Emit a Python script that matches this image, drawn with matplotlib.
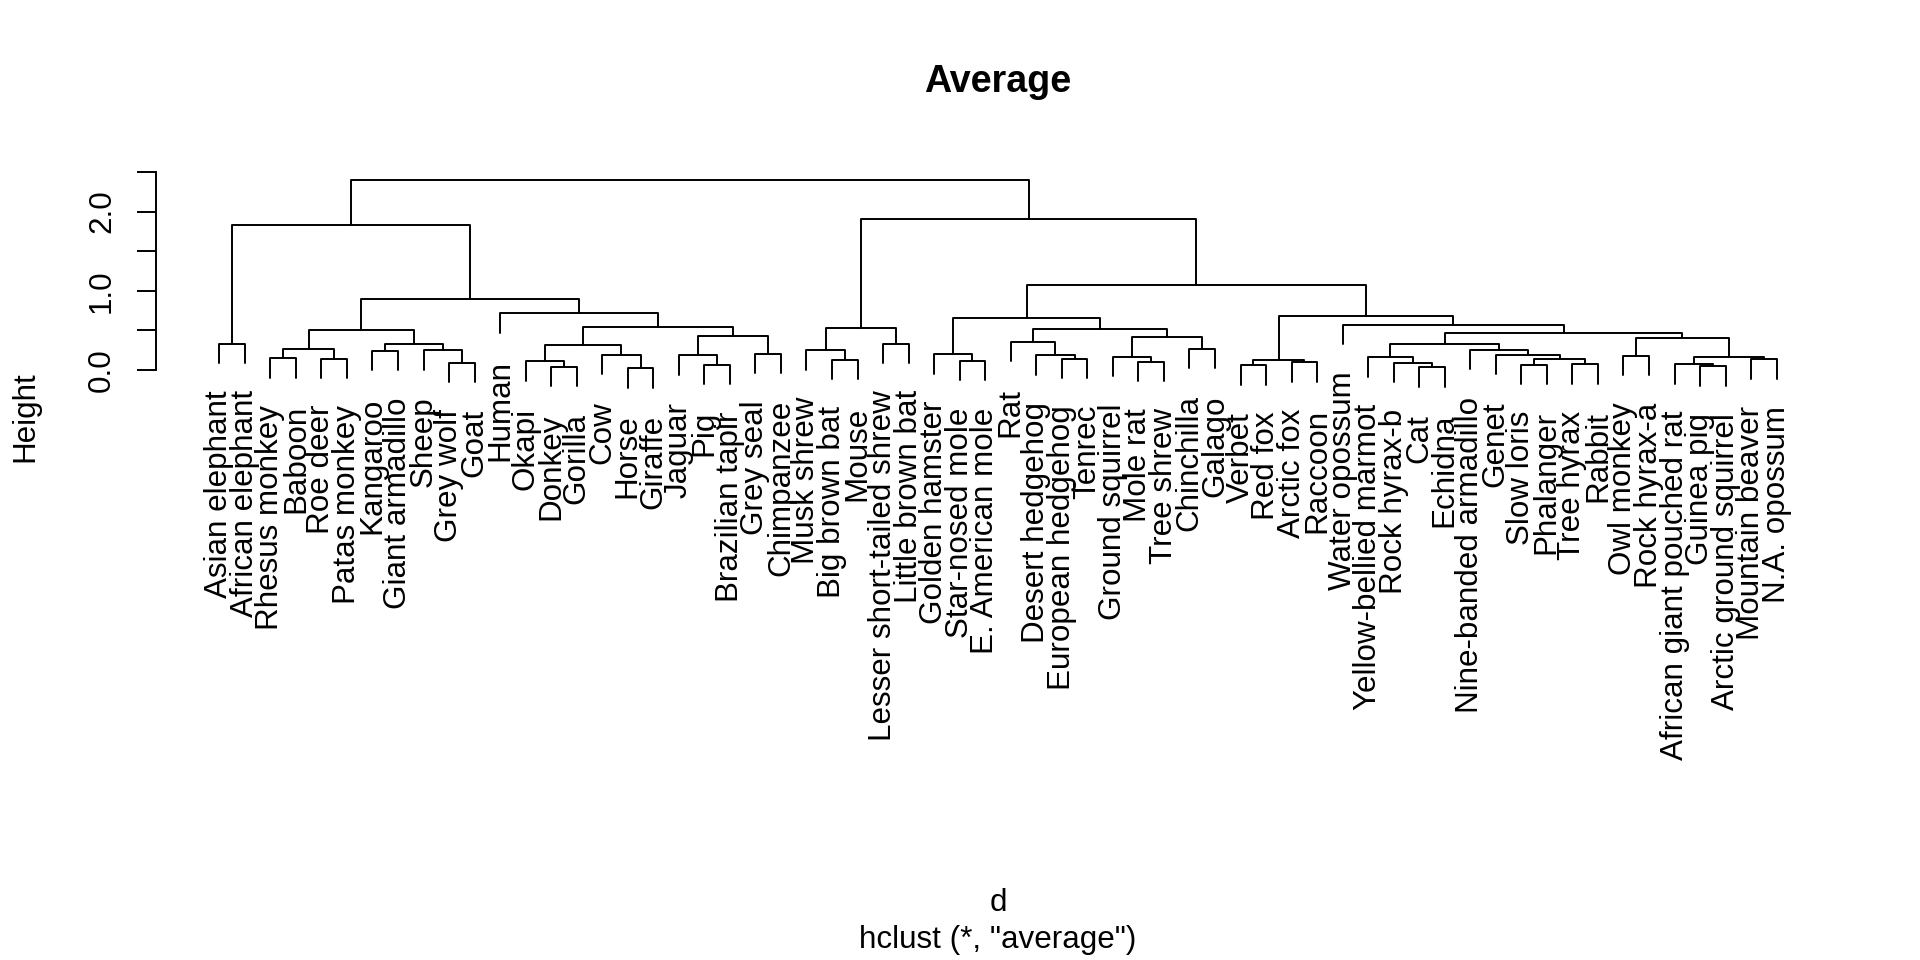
import numpy as np
import matplotlib
matplotlib.use("Agg")
import matplotlib.pyplot as plt
from matplotlib import transforms

plt.rcParams['font.family'] = ['Liberation Sans', 'DejaVu Sans']

# leaves in the order they are drawn
labels = [
    "Asian elephant", "African elephant", "Rhesus monkey", "Baboon", "Roe deer",
    "Patas monkey", "Kangaroo", "Giant armadillo", "Sheep", "Grey wolf", "Goat",
    "Human", "Okapi", "Donkey", "Gorilla", "Cow", "Horse", "Giraffe", "Jaguar",
    "Pig", "Brazilian tapir", "Grey seal", "Chimpanzee", "Musk shrew",
    "Big brown bat", "Mouse", "Lesser short-tailed shrew", "Little brown bat",
    "Golden hamster", "Star-nosed mole", "E. American mole", "Rat",
    "Desert hedgehog", "European hedgehog", "Tenrec", "Ground squirrel",
    "Mole rat", "Tree shrew", "Chinchilla", "Galago", "Verbet", "Red fox",
    "Arctic fox", "Raccoon", "Water opossum", "Yellow-bellied marmot",
    "Rock hyrax-b", "Cat", "Echidna", "Nine-banded armadillo", "Genet",
    "Slow loris", "Phalanger", "Tree hyrax", "Rabbit", "Owl monkey",
    "Rock hyrax-a", "African giant pouched rat", "Guinea pig",
    "Arctic ground squirrel", "Mountain beaver", "N.A. opossum",
]

# merge table like R's hclust: negative = leaf (1-based), positive = earlier merge row
merge_a = [-17, -48, -14, -59, -41, -20, -52, -54, -58, -10,
           -47, -43, -37, -13, -30, -25, 5, 7, -61, -34,
           -3, -5, -46, -36, 9, -56, -19, -33, -16, -51,
           -29, -22, -7, -9, -24, -50, 21, -39, 14, 33,
           -1, -27, 23, -32, 26, 24, 27, 43, 37, 44,
           35, 39, -45, 31, 17, -12, 54, 49, 41, 51,
           59]
merge_b = [-18, -49, -15, -60, -42, -21, -53, -55, 4, -11,
           2, -44, -38, 3, -31, -26, 12, 8, -62, -35,
           -4, -6, 11, 13, 19, -57, 6, 20, 1, 18,
           15, -23, -8, 10, 16, 30, 22, -40, 29, 34,
           -2, -28, 36, 28, 25, 38, 32, 45, 40, 46,
           42, 47, 48, 50, 53, 52, 55, 56, 58, 57,
           60]
heights = [0.019, 0.032, 0.039, 0.044, 0.057, 0.064, 0.064, 0.070, 0.070, 0.090,
           0.090, 0.095, 0.099, 0.107, 0.111, 0.124, 0.124, 0.133, 0.133, 0.140,
           0.146, 0.142, 0.158, 0.166, 0.166, 0.174, 0.183, 0.183, 0.187, 0.187,
           0.196, 0.204, 0.238, 0.247, 0.247, 0.250, 0.259, 0.263, 0.310, 0.325,
           0.330, 0.330, 0.326, 0.355, 0.398, 0.411, 0.427, 0.469, 0.503, 0.512,
           0.525, 0.537, 0.566, 0.655, 0.680, 0.714, 1.076, 0.899, 1.827, 1.903,
           2.400]

hang = 0.245
lw = 1.4

fig = plt.figure(figsize=(19.2, 9.6), dpi=100)
ax = fig.add_axes([156 / 1920, 1 - 400 / 960, (1840 - 156) / 1920, 250 / 960])
ax.set_xlim(-1.4794, 64.482)
ax.set_ylim(-0.3818, 2.7788)

n = len(labels)
leaf_x = np.arange(1, n + 1)
leaf_bottom = np.zeros(n)
node_x = []

for a, b, h in zip(merge_a, merge_b, heights):
    ends = []
    for k in (a, b):
        if k < 0:
            x = leaf_x[-k - 1]
            y = h - hang
            leaf_bottom[-k - 1] = y
        else:
            x = node_x[k - 1]
            y = heights[k - 1]
        ends.append((x, y))
    (x1, y1), (x2, y2) = ends
    ax.plot([x1, x1, x2, x2], [y1, h, h, y2], color='black', lw=lw,
            solid_capstyle='round', solid_joinstyle='round')
    node_x.append((x1 + x2) / 2)

# leaf labels hang below each leaf
lab_tr = transforms.offset_copy(ax.transData, fig=fig, x=0, y=-27, units='dots')
for i, lab in enumerate(labels):
    ax.text(leaf_x[i], leaf_bottom[i], lab, transform=lab_tr, rotation=90,
            rotation_mode='anchor', ha='right', va='center', fontsize=22.6,
            clip_on=False)

# y axis in R style
for s in ['top', 'right', 'bottom']:
    ax.spines[s].set_visible(False)
ax.spines['left'].set_bounds(0, 2.5)
ax.spines['left'].set_linewidth(lw)
ax.set_xticks([])
ax.set_yticks([0, 0.5, 1.0, 1.5, 2.0, 2.5])
ax.tick_params(axis='y', direction='out', length=13.5, width=lw, labelleft=False)

tick_tr = transforms.blended_transform_factory(fig.transFigure, ax.transData)
for v in [0.0, 1.0, 2.0]:
    fig.text(110 / 1920, v, f"{v:.1f}", transform=tick_tr, rotation=90,
             rotation_mode='anchor', ha='center', va='baseline', fontsize=22.6)

fig.text(33 / 1920, 1 - 417 / 960, "Height", rotation=90, rotation_mode='anchor',
         ha='center', va='baseline', fontsize=22.6)
fig.text(998 / 1920, 1 - 91.7 / 960, "Average", ha='center', va='baseline',
         fontsize=27.1, fontweight='bold')
fig.text(998 / 1920, 1 - 911 / 960, "d", ha='center', va='baseline', fontsize=22.6)
fig.text(998 / 1920, 1 - 948 / 960, 'hclust (*, "average")', ha='center',
         va='baseline', fontsize=22.6)

fig.savefig("out.png", dpi=100, facecolor='white')
